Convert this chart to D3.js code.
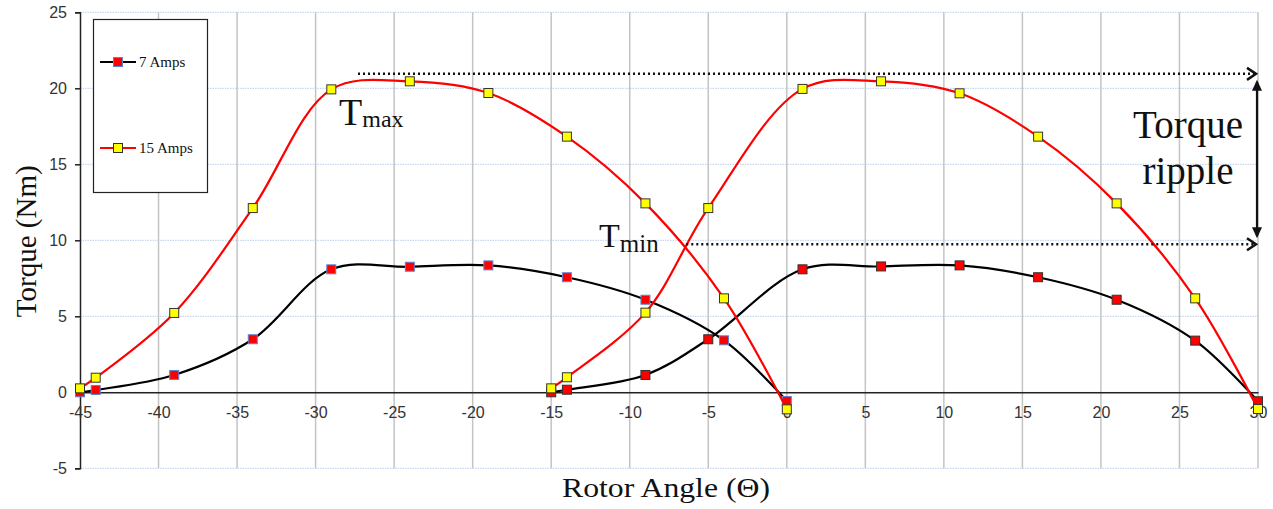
<!DOCTYPE html>
<html lang="en">
<head>
	<meta charset="UTF-8">
	<script src="https://d3js.org/d3.v7.min.js"></script>
	<title>Torque vs Rotor Angle</title>
	<style>
		body {
			margin: 0;
			background: white;
		}
	</style>
</head>
<body>
	<script>
		// rotor angles (degrees) for each phase curve
		const angles_A = [-45, -44, -39, -34, -29, -24, -19, -14, -9, -4, 0]
		const angles_B = [-15, -14, -9, -5, 1, 6, 11, 16, 21, 26, 30]
		// torque (Nm)
		const torque7_A = [0, 0.15, 1.14, 3.49, 8.09, 8.26, 8.35, 7.57, 6.09, 3.42, -0.57]
		const torque7_B = [0, 0.17, 1.14, 3.49, 8.09, 8.28, 8.35, 7.57, 6.09, 3.4, -0.59]
		const torque15_A = [0.26, 0.96, 5.22, 12.12, 19.93, 20.46, 19.69, 16.82, 12.43, 6.18, -1.12]
		const torque15_B = [0.26, 0.99, 5.24, 12.12, 19.96, 20.46, 19.67, 16.82, 12.43, 6.18, -1.1]
		const x_ticks = [-45, -40, -35, -30, -25, -20, -15, -10, -5, 0, 5, 10, 15, 20, 25, 30]
		const y_ticks = [-5, 0, 5, 10, 15, 20, 25]
		// annotation levels
		const t_max = 20.95, t_max_from = -27.3
		const t_min = 9.74, t_min_from = -6.4

		const SERIF = '"Liberation Serif", "Times New Roman", Times, serif'
		const SANS = '"Liberation Sans", Arial, sans-serif'

		const width = 1273, height = 509
		const x = d3.scaleLinear().domain([-45, 30]).range([80, 1258])
		const y = d3.scaleLinear().domain([-5, 25]).range([468.3, 12.3])

		const svg = d3.select("body").append("svg")
			.attr("width", width)
			.attr("height", height)

		/*---------------------- grid ------------------------*/
		svg.append("g")
			.selectAll("line")
			.data(y_ticks)
			.join("line")
			.attr("x1", x(-45)).attr("x2", x(30))
			.attr("y1", d => y(d)).attr("y2", d => y(d))
			.attr("stroke", "#c9d7f0")
			.attr("stroke-width", 1.2)
			.attr("stroke-dasharray", "1.5,1")

		svg.append("g")
			.selectAll("line")
			.data(x_ticks.slice(1))
			.join("line")
			.attr("x1", d => x(d)).attr("x2", d => x(d))
			.attr("y1", y(25)).attr("y2", y(-5))
			.attr("stroke", "#c4c4c4")
			.attr("stroke-width", 1.5)

		/*---------------------- axes ------------------------*/
		const yAxis = svg.append("g")
			.attr("transform", `translate(${x(-45)},0)`)
			.call(d3.axisLeft(y).tickValues(y_ticks).tickSize(5).tickPadding(8).tickFormat(d => String(d)))
		yAxis.select(".domain").attr("stroke", "#222").attr("stroke-width", 1.5)
		yAxis.selectAll(".tick line").attr("stroke", "#222").attr("stroke-width", 1.5)

		const xAxis = svg.append("g")
			.attr("transform", `translate(0,${y(0)})`)
			.call(d3.axisBottom(x).tickValues(x_ticks).tickSize(0).tickPadding(14).tickFormat(d => String(d)))
		xAxis.select(".domain").attr("stroke", "#222").attr("stroke-width", 1.5)

		svg.selectAll(".tick text")
			.style("font-family", SANS)
			.style("font-size", "16px")
			.attr("fill", "#333")

		/*---------------------- curves ----------------------*/
		const line = d3.line()
			.x(d => x(d[0]))
			.y(d => y(d[1]))
			.curve(d3.curveCatmullRom.alpha(0.5))

		const series = [
			{ xs: angles_A, ys: torque7_A, line: "#000", fill: "#ff0000", edge: "#5b86d6" },
			{ xs: angles_B, ys: torque7_B, line: "#000", fill: "#ff0000", edge: "#333" },
			{ xs: angles_A, ys: torque15_A, line: "#ff0000", fill: "#ffff00", edge: "#333" },
			{ xs: angles_B, ys: torque15_B, line: "#ff0000", fill: "#ffff00", edge: "#333" }
		]

		series.forEach(s => {
			const pts = s.xs.map((a, i) => [a, s.ys[i]])
			svg.append("path")
				.datum(pts)
				.attr("d", line)
				.attr("fill", "none")
				.attr("stroke", s.line)
				.attr("stroke-width", 2.2)
			svg.append("g")
				.selectAll("rect")
				.data(pts)
				.join("rect")
				.attr("x", d => x(d[0]) - 4.5)
				.attr("y", d => y(d[1]) - 4.5)
				.attr("width", 9)
				.attr("height", 9)
				.attr("fill", s.fill)
				.attr("stroke", s.edge)
				.attr("stroke-width", 1)
		})

		/*---------------------- legend ----------------------*/
		const legend = svg.append("g")
		legend.append("rect")
			.attr("x", 93.5).attr("y", 19.5)
			.attr("width", 114).attr("height", 173)
			.attr("fill", "white")
			.attr("stroke", "#222")
			.attr("stroke-width", 1.2)
		const legend_items = [
			{ label: "7 Amps", y: 62, line: "#000", fill: "#ff0000", edge: "#5b86d6" },
			{ label: "15 Amps", y: 148, line: "#ff0000", fill: "#ffff00", edge: "#333" }
		]
		legend_items.forEach(l => {
			legend.append("line")
				.attr("x1", 100).attr("x2", 136)
				.attr("y1", l.y).attr("y2", l.y)
				.attr("stroke", l.line).attr("stroke-width", 2.2)
			legend.append("rect")
				.attr("x", 113.5).attr("y", l.y - 4.5)
				.attr("width", 9).attr("height", 9)
				.attr("fill", l.fill).attr("stroke", l.edge)
			legend.append("text")
				.style("font-family", SERIF)
				.style("font-size", "15px")
				.attr("fill", "#111")
				.attr("x", 139).attr("y", l.y + 5)
				.text(l.label)
		})

		/*-------------------- annotations -------------------*/
		const ann = svg.append("g")
		const chevron = (px, py) => `M${px - 9},${py - 6} L${px},${py} L${px - 9},${py + 6}`

		;[[t_max_from, t_max], [t_min_from, t_min]].forEach(([from, level]) => {
			ann.append("line")
				.attr("x1", x(from)).attr("x2", x(30) - 4)
				.attr("y1", y(level)).attr("y2", y(level))
				.attr("stroke", "#111")
				.attr("stroke-width", 2.5)
				.attr("stroke-dasharray", "2,3")
			ann.append("path")
				.attr("d", chevron(x(30) - 2, y(level)))
				.attr("fill", "none")
				.attr("stroke", "#111")
				.attr("stroke-width", 2.5)
		})

		// torque ripple double arrow
		const ax = x(30) - 1
		const top_y = y(t_max) + 6, bot_y = y(t_min) - 6
		ann.append("line")
			.attr("x1", ax).attr("x2", ax)
			.attr("y1", top_y + 2).attr("y2", bot_y - 2)
			.attr("stroke", "#111").attr("stroke-width", 2.2)
		ann.append("path")
			.attr("d", `M${ax - 5},${top_y + 11} L${ax},${top_y} L${ax + 5},${top_y + 11} Z`)
			.attr("fill", "#111")
		ann.append("path")
			.attr("d", `M${ax - 5},${bot_y - 11} L${ax},${bot_y} L${ax + 5},${bot_y - 11} Z`)
			.attr("fill", "#111")

		const tmax = ann.append("text")
			.style("font-family", SERIF).attr("fill", "#111")
			.attr("x", 339).attr("y", y(t_max) + 51)
		tmax.append("tspan").style("font-size", "38px").text("T")
		tmax.append("tspan").style("font-size", "24px").attr("dy", 2).text("max")

		const tmin = ann.append("text")
			.style("font-family", SERIF).attr("fill", "#111")
			.attr("x", 599).attr("y", y(t_min) + 3)
		tmin.append("tspan").style("font-size", "34px").text("T")
		tmin.append("tspan").style("font-size", "25px").attr("dy", 5).text("min")

		const ripple = ann.append("text")
			.style("font-family", SERIF).attr("fill", "#111")
			.attr("text-anchor", "middle")
			.style("font-size", "39px")
		ripple.append("tspan").attr("x", 1188).attr("y", 138).text("Torque")
		ripple.append("tspan").attr("x", 1188).attr("y", 184).text("ripple")

		/*--------------------- axis titles -------------------*/
		svg.append("text")
			.style("font-family", SERIF).attr("fill", "#111")
			.style("font-size", "29px")
			.attr("text-anchor", "middle")
			.attr("transform", `translate(36,${(y(25) + y(-5)) / 2 + 1}) rotate(-90)`)
			.text("Torque (Nm)")

		svg.append("text")
			.style("font-family", SERIF).attr("fill", "#111")
			.style("font-size", "28px")
			.attr("text-anchor", "middle")
			.attr("textLength", 208)
			.attr("lengthAdjust", "spacingAndGlyphs")
			.attr("x", 666).attr("y", 497)
			.text("Rotor Angle (Θ)")
	</script>
</body>
</html>
